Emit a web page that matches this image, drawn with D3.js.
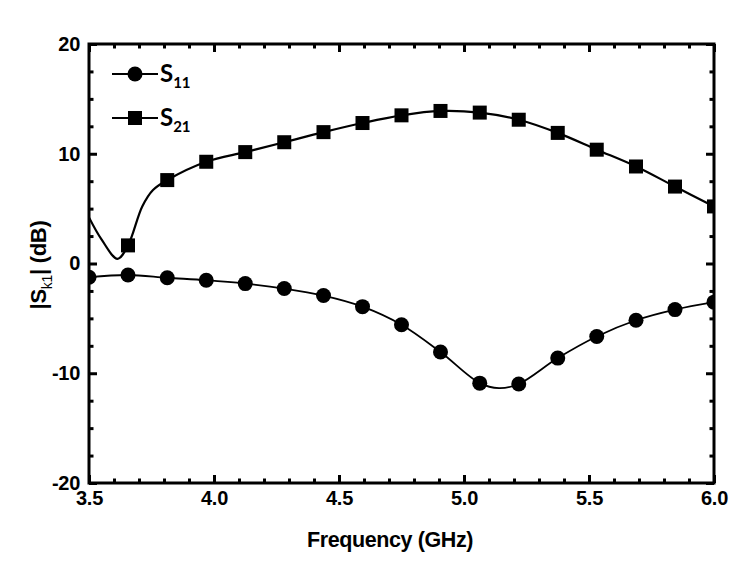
<!DOCTYPE html>
<html>
<head>
<meta charset="utf-8">
<script src="https://cdn.jsdelivr.net/npm/d3@7"></script>
<style>
  html, body { margin: 0; padding: 0; background: #fff; }
  svg { display: block; }
</style>
</head>
<body>
<svg id="chart" width="748" height="581"></svg>
<script>
// ---- data ----
const freqs = [3.5, 3.656, 3.813, 3.969, 4.125, 4.281, 4.438, 4.594, 4.75,
               4.906, 5.063, 5.219, 5.375, 5.531, 5.688, 5.844, 6.0];
const s11 = [-1.25, -1.05, -1.3, -1.52, -1.83, -2.28, -2.92, -3.93, -5.58,
             -8.07, -10.9, -10.98, -8.62, -6.65, -5.17, -4.2, -3.52];
// S21 has no marker at 3.5 GHz (null)
const s21 = [null, 1.65, 7.6, 9.27, 10.15, 11.05, 11.97, 12.8, 13.5,
             13.9, 13.75, 13.1, 11.9, 10.37, 8.84, 7.01, 5.2];
// extra points of the continuous measured curves (no markers)
const s11CurveFreq = [5.14];
const s11CurveVal  = [-11.35];
const s21CurveFreq = [3.5, 3.55, 3.614, 3.713, 3.756];
const s21CurveVal  = [4.2, 2.2, 0.43, 5.2, 6.7];

const xMajor = [3.5, 4.0, 4.5, 5.0, 5.5, 6.0];
const xLabels = ["3.5", "4.0", "4.5", "5.0", "5.5", "6.0"];
const yMajor = [-20, -10, 0, 10, 20];
const yLabels = ["-20", "-10", "0", "10", "20"];
const xMinorStep = 0.1;
const yMinorStep = 2.5;

const seriesNames = ["S", "S"];
const seriesSubs = ["11", "21"];

// ---- layout ----
const L = 89, R = 714, T = 44, B = 483;
const svg = d3.select("#chart");
const x = d3.scaleLinear().domain([3.5, 6.0]).range([L, R]);
const y = d3.scaleLinear().domain([-20, 20]).range([B, T]);

const xMinor = d3.range(3.5, 6.0001, xMinorStep).map(v => +v.toFixed(2)).filter(v => !xMajor.some(m => Math.abs(m - v) < 1e-6));
const yMinor = d3.range(-20, 20.0001, yMinorStep).filter(v => !yMajor.includes(v));

const tickFont = "'Liberation Sans', Arial, sans-serif";

function styleAxis(g) {
  g.select(".domain").remove();
  g.selectAll(".tick line").attr("stroke", "#000").attr("stroke-width", 3);
  g.selectAll(".tick text").attr("font-family", tickFont).attr("font-weight", "bold")
    .attr("font-size", 20).attr("fill", "#000").attr("letter-spacing", "-0.3px");
}

// bottom
svg.append("g").attr("transform", `translate(0,${B})`)
  .call(d3.axisBottom(x).tickValues(xMajor).tickSize(-8).tickPadding(8)
        .tickFormat((d, i) => xLabels[i]))
  .call(styleAxis);
svg.append("g").attr("transform", `translate(0,${B})`)
  .call(d3.axisBottom(x).tickValues(xMinor).tickSize(-4.5).tickFormat(""))
  .call(styleAxis);
// top
svg.append("g").attr("transform", `translate(0,${T})`)
  .call(d3.axisTop(x).tickValues(xMajor).tickSize(-8).tickFormat(""))
  .call(styleAxis);
svg.append("g").attr("transform", `translate(0,${T})`)
  .call(d3.axisTop(x).tickValues(xMinor).tickSize(-4.5).tickFormat(""))
  .call(styleAxis);
// left
svg.append("g").attr("transform", `translate(${L},0)`)
  .call(d3.axisLeft(y).tickValues(yMajor).tickSize(-8).tickPadding(9)
        .tickFormat((d, i) => yLabels[i]))
  .call(styleAxis);
svg.append("g").attr("transform", `translate(${L},0)`)
  .call(d3.axisLeft(y).tickValues(yMinor).tickSize(-4.5).tickFormat(""))
  .call(styleAxis);
// right
svg.append("g").attr("transform", `translate(${R},0)`)
  .call(d3.axisRight(y).tickValues(yMajor).tickSize(-8).tickFormat(""))
  .call(styleAxis);
svg.append("g").attr("transform", `translate(${R},0)`)
  .call(d3.axisRight(y).tickValues(yMinor).tickSize(-4.5).tickFormat(""))
  .call(styleAxis);

// ---- curves ----
function curvePts(fs, vs, ef, ev) {
  const pts = [];
  fs.forEach((f, i) => { if (vs[i] !== null) pts.push([f, vs[i]]); });
  ef.forEach((f, i) => pts.push([f, ev[i]]));
  pts.sort((a, b) => a[0] - b[0]);
  return pts;
}
const line = d3.line().x(d => x(d[0])).y(d => y(d[1])).curve(d3.curveCatmullRom.alpha(0.5));

svg.append("defs").append("clipPath").attr("id", "clip")
  .append("rect").attr("x", L).attr("y", T).attr("width", R - L).attr("height", B - T);

const plot = svg.append("g").attr("clip-path", "url(#clip)");

plot.append("path").datum(curvePts(freqs, s11, s11CurveFreq, s11CurveVal))
  .attr("d", line).attr("fill", "none").attr("stroke", "#000").attr("stroke-width", 1.8);
plot.append("path").datum(curvePts(freqs, s21, s21CurveFreq, s21CurveVal))
  .attr("d", line).attr("fill", "none").attr("stroke", "#000").attr("stroke-width", 2.2);

// markers
plot.selectAll("circle.s11").data(freqs.map((f, i) => [f, s11[i]]))
  .join("circle").attr("class", "s11")
  .attr("cx", d => x(d[0])).attr("cy", d => y(d[1])).attr("r", 7.5).attr("fill", "#000");
plot.selectAll("rect.s21").data(freqs.map((f, i) => [f, s21[i]]).filter(d => d[1] !== null))
  .join("rect").attr("class", "s21")
  .attr("x", d => x(d[0]) - 7).attr("y", d => y(d[1]) - 7)
  .attr("width", 14).attr("height", 14).attr("fill", "#000");

// frame
svg.append("rect").attr("x", L).attr("y", T).attr("width", R - L).attr("height", B - T)
  .attr("fill", "none").attr("stroke", "#000").attr("stroke-width", 3);

// ---- legend ----
const legFont = "Lato, 'Open Sans', sans-serif";
const legY = [74, 118];
legY.forEach((ly, i) => {
  const g = svg.append("g");
  g.append("line").attr("x1", 112).attr("x2", 158).attr("y1", ly).attr("y2", ly)
    .attr("stroke", "#000").attr("stroke-width", 2);
  if (i === 0) g.append("circle").attr("cx", 135).attr("cy", ly).attr("r", 7.5).attr("fill", "#000");
  else g.append("rect").attr("x", 135 - 7).attr("y", ly - 7).attr("width", 14).attr("height", 14).attr("fill", "#000");
  const t = g.append("text").attr("x", 160).attr("y", ly + 8)
    .attr("font-family", legFont).attr("font-weight", "bold").attr("font-size", 24).attr("fill", "#000");
  t.append("tspan").text(seriesNames[i]);
  t.append("tspan").attr("font-size", 15).attr("dy", 6).text(seriesSubs[i]);
});

// ---- axis titles ----
svg.append("text").attr("x", 390).attr("y", 547).attr("text-anchor", "middle")
  .attr("font-family", tickFont).attr("font-weight", "bold").attr("font-size", 21.5)
  .attr("letter-spacing", "-0.4px").text("Frequency (GHz)");

const yt = svg.append("text").attr("transform", `translate(46,265) rotate(-90)`)
  .attr("text-anchor", "middle").attr("font-family", tickFont).attr("font-weight", "bold")
  .attr("font-size", 22).attr("letter-spacing", "-0.3px");
yt.append("tspan").text("|S");
yt.append("tspan").attr("font-size", 14).attr("font-weight", "normal").attr("dy", 6).text("k1");
yt.append("tspan").attr("dy", -6).text("| (dB)");
</script>
</body>
</html>
